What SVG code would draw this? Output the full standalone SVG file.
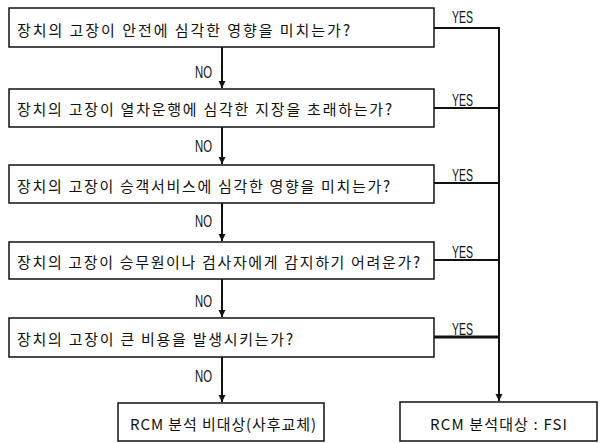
<svg xmlns="http://www.w3.org/2000/svg" width="600" height="443" viewBox="0 0 600 443">
<style>
.box{fill:#fff;stroke:#111;stroke-width:1.5}
.q{font-family:"Noto Sans CJK KR","Noto Sans",sans-serif;font-size:15px;fill:#111}
.lbl{font-family:"Liberation Sans",Arial,sans-serif;font-size:17px;fill:#111}
.ln{fill:none;stroke:#111;stroke-width:2}
</style>
<defs>
<marker id="ah" markerWidth="8" markerHeight="10" refX="7" refY="5" orient="auto" markerUnits="userSpaceOnUse">
<path d="M0,1.5 L7,5 L0,8.5 Z" fill="#111"/>
</marker>
</defs>
<rect width="600" height="443" fill="#fff"/>
<g id="connectors">
<line class="ln" x1="222" y1="47" x2="222" y2="88" marker-end="url(#ah)"/>
<line class="ln" x1="222" y1="127" x2="222" y2="164" marker-end="url(#ah)"/>
<line class="ln" x1="222" y1="203" x2="222" y2="241" marker-end="url(#ah)"/>
<line class="ln" x1="222" y1="279" x2="222" y2="317" marker-end="url(#ah)"/>
<line class="ln" x1="222" y1="357" x2="222" y2="402" marker-end="url(#ah)"/>
<path class="ln" d="M434,28 H499 V401" marker-end="url(#ah)"/>
<line class="ln" x1="434" y1="108" x2="499" y2="108"/>
<line class="ln" x1="434" y1="183" x2="499" y2="183"/>
<line class="ln" x1="434" y1="260" x2="499" y2="260"/>
<line class="ln" x1="434" y1="337" x2="499" y2="337" style="stroke-width:3"/>
<text class="lbl" x="452" y="23" textLength="21" lengthAdjust="spacingAndGlyphs">YES</text>
<text class="lbl" x="452" y="106" textLength="21" lengthAdjust="spacingAndGlyphs">YES</text>
<text class="lbl" x="452" y="181" textLength="21" lengthAdjust="spacingAndGlyphs">YES</text>
<text class="lbl" x="452" y="258" textLength="21" lengthAdjust="spacingAndGlyphs">YES</text>
<text class="lbl" x="452" y="335" textLength="21" lengthAdjust="spacingAndGlyphs">YES</text>
<text class="lbl" x="195" y="78" textLength="17" lengthAdjust="spacingAndGlyphs">NO</text>
<text class="lbl" x="195" y="152" textLength="17" lengthAdjust="spacingAndGlyphs">NO</text>
<text class="lbl" x="195" y="227" textLength="17" lengthAdjust="spacingAndGlyphs">NO</text>
<text class="lbl" x="195" y="307" textLength="17" lengthAdjust="spacingAndGlyphs">NO</text>
<text class="lbl" x="195" y="382" textLength="17" lengthAdjust="spacingAndGlyphs">NO</text>
</g>
<g id="q1"><rect class="box" x="9" y="8" width="425" height="39"/>
<text class="q" x="17" y="29" dominant-baseline="central" textLength="333" lengthAdjust="spacing">장치의 고장이 안전에 심각한 영향을 미치는가?</text></g>
<g id="q2"><rect class="box" x="9" y="89" width="425" height="38"/>
<text class="q" x="17" y="108" dominant-baseline="central" textLength="375" lengthAdjust="spacing">장치의 고장이 열차운행에 심각한 지장을 초래하는가?</text></g>
<g id="q3"><rect class="box" x="9" y="165" width="425" height="38"/>
<text class="q" x="17" y="185" dominant-baseline="central" textLength="373" lengthAdjust="spacing">장치의 고장이 승객서비스에 심각한 영향을 미치는가?</text></g>
<g id="q4"><rect class="box" x="9" y="242" width="425" height="37"/>
<text class="q" x="17" y="261" dominant-baseline="central" textLength="403" lengthAdjust="spacing">장치의 고장이 승무원이나 검사자에게 감지하기 어려운가?</text></g>
<g id="q5"><rect class="box" x="9" y="318" width="425" height="39"/>
<text class="q" x="17" y="338" dominant-baseline="central" textLength="276" lengthAdjust="spacing">장치의 고장이 큰 비용을 발생시키는가?</text></g>
<g id="r-no"><rect class="box" x="118" y="403" width="206" height="38"/>
<text class="q" x="130" y="423" dominant-baseline="central" textLength="186" lengthAdjust="spacing">RCM 분석 비대상(사후교체)</text></g>
<g id="r-yes"><rect class="box" x="400" y="402" width="197" height="39"/>
<text class="q" x="430" y="423" dominant-baseline="central" textLength="137" lengthAdjust="spacing">RCM 분석대상 : FSI</text></g>
</svg>
